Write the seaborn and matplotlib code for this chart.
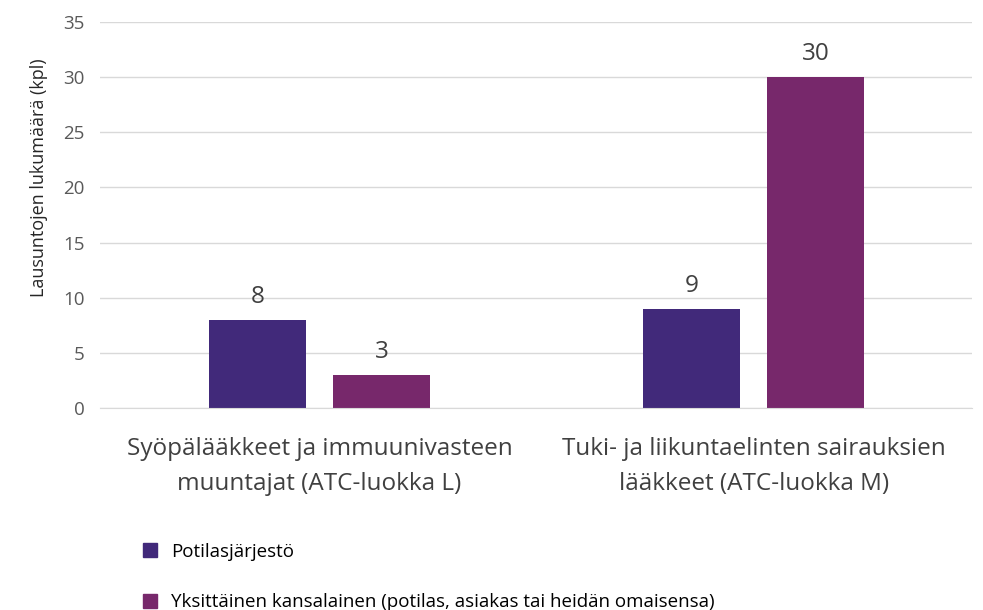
import pandas as pd
import seaborn as sns
import matplotlib.pyplot as plt
from matplotlib.patches import Patch

categories = ['Syöpälääkkeet ja immuunivasteen\nmuuntajat (ATC-luokka L)',
              'Tuki- ja liikuntaelinten sairauksien\nlääkkeet (ATC-luokka M)']
series = ['Potilasjärjestö',
          'Yksittäinen kansalainen (potilas, asiakas tai heidän omaisensa)']
potilasjarjesto = [8, 9]
kansalainen = [3, 30]
colors = ['#41297A', '#77286B']

df = pd.DataFrame({
    'cat': categories * 2,
    'series': [series[0]] * 2 + [series[1]] * 2,
    'val': potilasjarjesto + kansalainen,
})

plt.rcParams['font.family'] = ['Open Sans', 'DejaVu Sans']
fig = plt.figure(figsize=(9.83, 6.1), dpi=100)
ax = fig.add_axes([0.1017, 0.3311, 0.8871, 0.6328])

sns.barplot(data=df, x='cat', y='val', hue='series', palette=colors,
            width=0.571, gap=0.219, ax=ax, legend=False, saturation=1)

for cont in ax.containers:
    ax.bar_label(cont, fontsize=17.5, color='#404040', padding=8)

ax.set_ylim(0, 35)
ax.set_yticks(range(0, 36, 5))
ax.set_xlim(-0.505, 1.502)
ax.grid(axis='y', color='#D9D9D9', lw=1)
ax.set_axisbelow(True)
for s in ['top', 'right', 'left']:
    ax.spines[s].set_visible(False)
ax.spines['bottom'].set_color('#D9D9D9')
ax.tick_params(axis='y', length=0, labelsize=13.5, labelcolor='#595959', pad=11)
ax.tick_params(axis='x', length=0, labelsize=17.5, labelcolor='#404040', pad=21)
ax.set_xlabel('')
ax.set_ylabel('Lausuntojen lukumäärä (kpl)', fontsize=13, color='#262626')
ax.yaxis.set_label_coords(-0.06, 0.596)

handles = [Patch(color=c) for c in colors]
fig.legend(handles, series, loc='lower left', bbox_to_anchor=(0.128, -0.03),
           frameon=False, fontsize=13.5, handlelength=0.75, handleheight=0.75,
           labelspacing=1.75, handletextpad=0.75)

fig.canvas.draw()
for t in ax.get_xticklabels():
    t.set_linespacing(1.6)

fig.savefig('out.png', dpi=100)
